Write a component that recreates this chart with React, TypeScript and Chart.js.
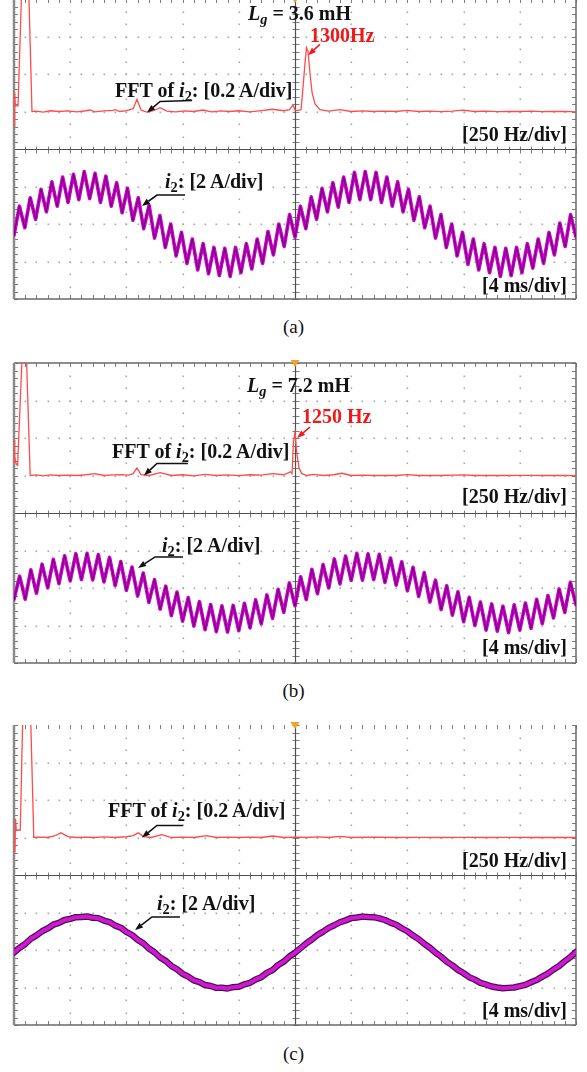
import React, { useEffect, useRef } from 'react';
import { Chart, registerables } from 'chart.js';

Chart.register(...registerables);

// ---------------- data ----------------
// graticule: 10 x 8 divisions
const FREQ_GRID_HZ = [0, 250, 500, 750, 1000, 1250, 1500, 1750, 2000, 2250, 2500]; // 250 Hz/div
const TIME_GRID_MS = [0, 4, 8, 12, 16, 20, 24, 28, 32, 36, 40]; // 4 ms/div
const FFT_GRID_A = [-1.0, -0.8, -0.6, -0.4, -0.2, 0, 0.2, 0.4, 0.6]; // 0.2 A/div
const I2_GRID_A = [-4, -2, 0, 2, 4, 6, 8, 10, 12]; // 2 A/div

// (a) Lg = 3.6 mH
const FFT_A_HZ = [0, 3, 6, 18, 51, 80, 100, 130, 160, 200, 240, 280, 320, 338, 360, 400, 440, 450, 470, 500, 530, 547, 565, 590, 620, 650, 680, 720, 760, 800, 840, 880, 920, 960, 1000, 1050, 1100, 1150, 1200, 1225, 1241, 1250, 1259, 1277, 1285, 1294, 1301, 1308, 1317, 1326, 1339, 1361, 1400, 1450, 1500, 1550, 1600, 1650, 1700, 1748, 1800, 1850, 1900, 1950, 1997, 2050, 2100, 2150, 2200, 2250, 2300, 2350, 2400, 2450, 2500];
const FFT_A_AMP = [-0.08, 0.10, 0.03, 0.03, 1.30, 0.0, 0.002, -0.003, 0.004, 0.0, 0.003, -0.002, 0.004, 0.008, -0.002, 0.003, 0.006, 0.01, 0.0, 0.005, 0.015, 0.065, 0.008, -0.003, 0.004, 0.02, 0.002, -0.002, 0.003, 0.0, 0.008, -0.002, 0.003, 0.0, 0.004, -0.002, 0.005, 0.012, 0.004, 0.01, 0.035, 0.008, 0.005, 0.01, 0.12, 0.25, 0.34, 0.32, 0.2, 0.1, 0.04, 0.01, 0.002, 0.01, 0.0, 0.003, 0.0, 0.002, 0.0, 0.006, 0.0, 0.002, -0.001, 0.002, 0.007, 0.0, 0.002, -0.001, 0.001, 0.0, 0.002, -0.001, 0.0, 0.001, -0.002];
const WAVE_A_STEP_MS = 40 / 104;
const WAVE_A_I2 = [
  -0.6, 0.95, -0.2, 1.4, 0.25, 1.85, 0.65, 2.25, 0.95, 2.5, 1.15, 2.65, 1.3, 2.8, 1.35, 2.7, 1.15, 2.55, 0.95, 2.2, 0.6, 1.9, 0.2, 1.4, -0.25, 1.0, -0.75, 0.45, -1.25, 0.0, -1.7, -0.45, -2.1, -0.8, -2.45, -1.05, -2.65, -1.25, -2.75, -1.3, -2.8, -1.25, -2.6, -1.05, -2.4, -0.8, -2.1, -0.4, -1.65, 0.0, -1.2, 0.5, -0.7,
  0.95, -0.25, 1.45, 0.25, 1.9, 0.65, 2.2, 0.9, 2.5, 1.15, 2.75, 1.3, 2.8, 1.3, 2.75, 1.15, 2.5, 0.95, 2.25, 0.65, 1.85, 0.2, 1.45, -0.2, 0.95, -0.75, 0.5, -1.25, 0.0, -1.7, -0.45, -2.15, -0.8, -2.45, -1.05, -2.6, -1.25, -2.8, -1.3, -2.75, -1.25, -2.6, -1.05, -2.35, -0.8, -2.1, -0.45, -1.65, 0.05, -1.2, 0.5, -0.7,
];

// (b) Lg = 7.2 mH
const FFT_B_HZ = [0, 2, 4, 10, 16, 47, 72, 100, 130, 160, 200, 240, 280, 320, 360, 400, 440, 480, 510, 530, 547, 565, 600, 650, 700, 750, 800, 850, 900, 950, 1000, 1050, 1100, 1150, 1200, 1230, 1237, 1243, 1250, 1258, 1268, 1280, 1303, 1330, 1380, 1420, 1459, 1500, 1550, 1600, 1650, 1700, 1750, 1800, 1850, 1900, 1950, 2000, 2050, 2100, 2150, 2200, 2250, 2300, 2350, 2400, 2450, 2500];
const FFT_B_AMP = [0.07, 0.19, 0.10, 0.06, 0.055, 0.95, 0.0, 0.003, -0.002, 0.003, 0.0, 0.002, 0.0, 0.004, 0.01, 0.0, 0.003, 0.005, 0.002, 0.01, 0.04, 0.005, 0.0, 0.015, 0.0, 0.004, -0.002, 0.006, 0.0, 0.003, -0.001, 0.004, 0.002, 0.01, 0.004, 0.02, 0.01, 0.18, 0.23, 0.12, 0.04, 0.01, 0.0, 0.006, 0.0, 0.004, 0.012, 0.0, 0.002, 0.0, 0.001, 0.0, 0.005, 0.0, 0.001, 0.0, 0.002, 0.003, 0.0, 0.001, 0.0, 0.0, 0.001, 0.001, 0.0, 0.0, 0.001, -0.001];
const WAVE_B_STEP_MS = 0.4;
const WAVE_B_I2 = [
  -0.6, 0.63, -0.6, 0.97, -0.28, 1.27, 0.01, 1.53, 0.23, 1.72, 0.38, 1.83, 0.45, 1.85, 0.43, 1.78, 0.32, 1.63, 0.13, 1.41, -0.13, 1.12, -0.43, 0.8, -0.77, 0.45, -1.13, 0.1, -1.47, -0.22, -1.77, -0.51, -2.03, -0.73, -2.22, -0.88, -2.33, -0.95, -2.35, -0.93, -2.28, -0.82, -2.13, -0.63, -1.91, -0.37, -1.62, -0.07, -1.3, 0.27, -0.95,
  0.6, -0.62, 1.0, -0.3, 1.25, 0.0, 1.55, 0.22, 1.7, 0.4, 1.85, 0.42, 1.82, 0.45, 1.8, 0.3, 1.6, 0.15, 1.4, -0.15, 1.1, -0.45, 0.82, -0.75, 0.42, -1.15, 0.12, -1.45, -0.2, -1.8, -0.5, -2.0, -0.75, -2.25, -0.85, -2.3, -0.97, -2.38, -0.9, -2.25, -0.8, -2.15, -0.6, -1.9, -0.4, -1.6, -0.05, -1.3, 0.3, -0.9,
];

// (c)
const FFT_C_HZ = [0, 4, 7, 10, 28, 55, 88, 110, 150, 180, 209, 240, 280, 320, 360, 400, 450, 500, 530, 553, 575, 610, 658, 700, 750, 800, 858, 900, 950, 1000, 1050, 1100, 1150, 1200, 1260, 1300, 1350, 1400, 1450, 1500, 1600, 1700, 1800, 1900, 2000, 2100, 2200, 2300, 2400, 2500];
const FFT_C_AMP = [0.02, -0.08, 0.10, 0.04, 0.04, 1.52, 0.0, 0.002, 0.0, 0.008, 0.025, 0.005, 0.0, 0.002, 0.0, 0.003, 0.0, 0.004, 0.01, 0.025, 0.005, 0.0, 0.015, 0.0, 0.002, 0.0, 0.01, 0.0, 0.002, 0.0, 0.002, 0.0, 0.008, 0.0, 0.002, 0.0, 0.003, 0.0, 0.006, 0.0, 0.002, 0.0, 0.001, 0.0, 0.001, 0.0, 0.001, 0.0, 0.0, 0.0];
const WAVE_C_STEP_MS = 0.4;
const WAVE_C_I2 = [
  -0.13, 0.12, 0.32, 0.6, 0.78, 1.0, 1.15, 1.35, 1.45, 1.6, 1.66, 1.75, 1.76, 1.79, 1.72, 1.7, 1.57, 1.49, 1.3, 1.19, 0.96, 0.8, 0.55, 0.36, 0.08, -0.12, -0.4, -0.58, -0.85, -1.03, -1.27, -1.42, -1.62, -1.71, -1.87, -1.92, -2.02, -2.01, -2.05, -1.98, -1.96, -1.83, -1.75, -1.57, -1.45, -1.22, -1.07, -0.8, -0.62, -0.35, -0.15,
  0.1, 0.35, 0.56, 0.8, 0.98, 1.18, 1.32, 1.48, 1.58, 1.7, 1.73, 1.78, 1.76, 1.75, 1.69, 1.6, 1.46, 1.35, 1.16, 1.0, 0.77, 0.58, 0.33, 0.12, -0.14, -0.36, -0.62, -0.82, -1.06, -1.24, -1.45, -1.58, -1.75, -1.84, -1.95, -2.0, -2.04, -2.02, -2.0, -1.93, -1.86, -1.72, -1.6, -1.42, -1.26, -1.04, -0.85, -0.6, -0.38, -0.1,
];

const PANEL_CAPTIONS = ['(a)', '(b)', '(c)'];
const LG_VALUES = ['3.6 mH', '7.2 mH', ''];
const PEAK_LABELS = ['1300Hz', '1250 Hz', ''];

// ---------------- layout / style ----------------
const W = 587;
const H = 1072;
const PAD = 10;
const SERIF = "'Liberation Serif', 'Times New Roman', Times, serif";
const FS = 20;
const RED = '#f01818';
const INK = '#111111';

type Arrow = { fft: boolean; x: number; y: number; path: number[][]; color: string };

type Panel = {
  top: number;
  topBorder: boolean;
  fftHz: number[];
  fftAmp: number[];
  wave: number[];
  waveStep: number;
  thickTrace: boolean;
  arrows: Arrow[];
};

const PANELS: Panel[] = [
  {
    top: -1, topBorder: true, fftHz: FFT_A_HZ, fftAmp: FFT_A_AMP, wave: WAVE_A_I2, waveStep: WAVE_A_STEP_MS, thickTrace: false,
    arrows: [
      { fft: true, x: 592, y: -0.005, path: [[45, -12], [13, -11]], color: INK },
      { fft: false, x: 9.11, y: 0.96, path: [[43, -11], [15, -11]], color: INK },
      { fft: true, x: 1308, y: 0.3, path: [[12, -11]], color: RED },
    ],
  },
  {
    top: 363, topBorder: true, fftHz: FFT_B_HZ, fftAmp: FFT_B_AMP, wave: WAVE_B_I2, waveStep: WAVE_B_STEP_MS, thickTrace: false,
    arrows: [
      { fft: true, x: 578, y: 0.0, path: [[44, -12], [13, -12]], color: INK },
      { fft: false, x: 8.83, y: 1.07, path: [[45, -11], [17, -11]], color: INK },
      { fft: true, x: 1259, y: 0.2, path: [[13, -11]], color: RED },
    ],
  },
  {
    top: 725, topBorder: false, fftHz: FFT_C_HZ, fftAmp: FFT_C_AMP, wave: WAVE_C_I2, waveStep: WAVE_C_STEP_MS, thickTrace: true,
    arrows: [
      { fft: true, x: 569, y: 0.0, path: [[41, -12], [15, -12]], color: INK },
      { fft: false, x: 8.61, y: 1.07, path: [[45, -13], [17, -13]], color: INK },
    ],
  },
];

// ---------------- plugins ----------------
function makeGraticule(topBorder: boolean) {
  return {
    id: 'graticule',
    beforeDatasetsDraw(chart: any) {
      const { ctx, chartArea } = chart;
      const { left, right, top, bottom } = chartArea;
      const xs = chart.scales.xt;
      const ys = chart.scales.yt;
      const gx = TIME_GRID_MS.map((v) => xs.getPixelForValue(v));
      const gy = I2_GRID_A.map((v) => ys.getPixelForValue(v)).reverse();
      const divW = gx[1] - gx[0];
      const divH = gy[1] - gy[0];
      const cx = Math.round(gx[5]) + 0.5;
      const cy = Math.round(gy[4]) + 0.5;
      ctx.save();
      // dotted division lines
      ctx.fillStyle = '#a8a8a8';
      gx.forEach((x: number, i: number) => {
        if (i === 0 || i === gx.length - 1 || i === 5) return;
        for (let y = top + divH / 3; y < bottom - 2; y += divH / 3) {
          ctx.fillRect(Math.round(x) - 0.5, Math.round(y) - 0.5, 1.6, 1.6);
        }
      });
      gy.forEach((y: number, j: number) => {
        if (j === 0 || j === gy.length - 1 || j === 4) return;
        for (let x = left + divW / 5; x < right - 2; x += divW / 5) {
          ctx.fillRect(Math.round(x) - 0.5, Math.round(y) - 0.5, 1.6, 1.6);
        }
      });
      // minor ticks on centre lines and borders
      ctx.strokeStyle = '#7c7c7c';
      ctx.lineWidth = 1;
      ctx.beginPath();
      for (let y = top; y <= bottom + 0.1; y += divH / 5) {
        const yy = Math.round(y) + 0.5;
        ctx.moveTo(cx - 3, yy); ctx.lineTo(cx + 4, yy);
        ctx.moveTo(left, yy); ctx.lineTo(left + 4, yy);
        ctx.moveTo(right - 4, yy); ctx.lineTo(right, yy);
      }
      for (let x = left; x <= right + 0.1; x += divW / 5) {
        const xx = Math.round(x) + 0.5;
        ctx.moveTo(xx, cy - 3); ctx.lineTo(xx, cy + 4);
        ctx.moveTo(xx, top); ctx.lineTo(xx, top + 4);
        ctx.moveTo(xx, bottom - 4); ctx.lineTo(xx, bottom);
      }
      ctx.stroke();
      // centre cross
      ctx.strokeStyle = '#505050';
      ctx.lineWidth = 1.2;
      ctx.beginPath();
      ctx.moveTo(cx, top); ctx.lineTo(cx, bottom);
      ctx.moveTo(left, cy); ctx.lineTo(right, cy);
      ctx.stroke();
      // frame
      ctx.strokeStyle = '#6a6a6a';
      ctx.lineWidth = 1.5;
      ctx.beginPath();
      ctx.moveTo(left, bottom); ctx.lineTo(right, bottom);
      ctx.moveTo(right, top); ctx.lineTo(right, bottom);
      if (topBorder) { ctx.moveTo(left, top); ctx.lineTo(right, top); }
      ctx.stroke();
      ctx.strokeStyle = '#8a8a8a';
      ctx.lineWidth = 2.5;
      ctx.beginPath();
      ctx.moveTo(left, top); ctx.lineTo(left, bottom);
      ctx.stroke();
      ctx.restore();
    },
    afterDatasetsDraw(chart: any) {
      const { ctx, chartArea } = chart;
      const cx = chart.scales.xt.getPixelForValue(TIME_GRID_MS[5]);
      const t = chartArea.top;
      ctx.save();
      ctx.fillStyle = '#f2a02a';
      ctx.beginPath();
      ctx.moveTo(cx - 4.5, t - 3);
      ctx.lineTo(cx + 4.5, t - 3);
      ctx.lineTo(cx, t + 4);
      ctx.closePath();
      ctx.fill();
      ctx.restore();
    },
  };
}

function makeNotes(arrows: Arrow[]) {
  return {
    id: 'scopeNotes',
    afterDatasetsDraw(chart: any) {
      const { ctx } = chart;
      ctx.save();
      arrows.forEach((a) => {
        const xs = chart.scales[a.fft ? 'xf' : 'xt'];
        const ys = chart.scales[a.fft ? 'yf' : 'yt'];
        const tx = xs.getPixelForValue(a.x);
        const ty = ys.getPixelForValue(a.y);
        const pts = a.path.map(([dx, dy]) => [tx + dx, ty + dy]);
        const [px, py] = pts[pts.length - 1];
        const ang = Math.atan2(ty - py, tx - px);
        const len = 8;
        const wid = 6;
        const bx = tx - len * Math.cos(ang);
        const by = ty - len * Math.sin(ang);
        ctx.strokeStyle = a.color;
        ctx.fillStyle = a.color;
        ctx.lineWidth = 1.6;
        ctx.beginPath();
        ctx.moveTo(pts[0][0], pts[0][1]);
        for (let i = 1; i < pts.length; i++) ctx.lineTo(pts[i][0], pts[i][1]);
        ctx.lineTo(bx, by);
        ctx.stroke();
        ctx.beginPath();
        ctx.moveTo(tx, ty);
        ctx.lineTo(bx + (wid / 2) * Math.sin(ang), by - (wid / 2) * Math.cos(ang));
        ctx.lineTo(bx - (wid / 2) * Math.sin(ang), by + (wid / 2) * Math.cos(ang));
        ctx.closePath();
        ctx.fill();
      });
      ctx.restore();
    },
  };
}

// ---------------- components ----------------
function ScopePanel({ p }: { p: Panel }) {
  const ref = useRef<HTMLCanvasElement | null>(null);
  useEffect(() => {
    if (!ref.current) return;
    const fftPts = p.fftHz.map((hz, i) => ({ x: hz, y: p.fftAmp[i] }));
    const wavePts = p.wave.map((v, k) => ({ x: k * p.waveStep, y: v }));
    const core = p.thickTrace
      ? { color: '#d018d0', width: 4 }
      : { color: '#66066a', width: 1 };
    const outer = p.thickTrace
      ? { color: '#4a1252', width: 6.5 }
      : { color: '#cf00cf', width: 3.6 };
    const chart = new Chart(ref.current, {
      type: 'line',
      data: {
        datasets: [
          {
            data: wavePts, xAxisID: 'xt', yAxisID: 'yt', borderColor: core.color, borderWidth: core.width,
            pointRadius: 0, tension: 0, borderJoinStyle: 'round', borderCapStyle: 'round',
          },
          {
            data: wavePts, xAxisID: 'xt', yAxisID: 'yt', borderColor: outer.color, borderWidth: outer.width,
            pointRadius: 0, tension: 0, borderJoinStyle: 'round', borderCapStyle: 'round',
          },
          {
            data: fftPts, xAxisID: 'xf', yAxisID: 'yf', borderColor: '#ff4b4b', borderWidth: 1.3,
            pointRadius: 0, tension: 0, clip: 0,
          },
        ] as any,
      },
      options: {
        animation: false,
        responsive: false,
        devicePixelRatio: 1,
        events: [],
        layout: { padding: { left: 14, right: W - 576, top: PAD, bottom: PAD } },
        plugins: { legend: { display: false }, tooltip: { enabled: false } },
        scales: {
          xf: { type: 'linear', display: false, min: FREQ_GRID_HZ[0], max: FREQ_GRID_HZ[FREQ_GRID_HZ.length - 1] },
          xt: { type: 'linear', display: false, min: TIME_GRID_MS[0], max: TIME_GRID_MS[TIME_GRID_MS.length - 1] },
          yf: { type: 'linear', display: false, min: FFT_GRID_A[0], max: FFT_GRID_A[FFT_GRID_A.length - 1] },
          yt: { type: 'linear', display: false, min: I2_GRID_A[0], max: I2_GRID_A[I2_GRID_A.length - 1] },
        },
      } as any,
      plugins: [makeGraticule(p.topBorder), makeNotes(p.arrows)],
    });
    return () => chart.destroy();
  }, [p]);
  return (
    <canvas
      ref={ref}
      width={W}
      height={300 + 2 * PAD}
      style={{ position: 'absolute', left: 0, top: p.top - PAD, width: W, height: 300 + 2 * PAD }}
    />
  );
}

function Label(props: { left?: number; right?: number; base: number; color?: string; bold?: boolean; size?: number; center?: boolean; children: React.ReactNode }) {
  const size = props.size ?? FS;
  const style: React.CSSProperties = {
    position: 'absolute',
    top: props.base - 0.8375 * size,
    fontFamily: SERIF,
    fontSize: size,
    lineHeight: `${size}px`,
    fontWeight: props.bold === false ? 400 : 700,
    color: props.color ?? INK,
    whiteSpace: 'nowrap',
  };
  if (props.center) { style.left = 0; style.width = W; style.textAlign = 'center'; }
  if (props.left != null) style.left = props.left;
  if (props.right != null) style.right = props.right;
  return <div style={style}>{props.children}</div>;
}

const Sub = ({ children }: { children: React.ReactNode }) => (
  <span style={{ position: 'relative', top: '0.28em', fontSize: '0.72em' }}>{children}</span>
);

const I2 = () => (<><i>i</i><Sub>2</Sub></>);

type TextPos = { lg?: [number, number]; peak?: [number, number]; fft: [number, number]; hz: number; i2: [number, number]; ms: number; cap: number };
const TEXT_POS: TextPos[] = [
  { lg: [248, 20], peak: [310, 42], fft: [115, 97], hz: 141, i2: [165, 188], ms: 292, cap: 333 },
  { lg: [247, 392], peak: [302, 423], fft: [112, 458], hz: 503, i2: [162, 552], ms: 654, cap: 697 },
  { fft: [108, 817], hz: 867, i2: [157, 910], ms: 1017, cap: 1060 },
];

export default function App() {
  return (
    <div style={{ position: 'absolute', left: 0, top: 0, width: W, height: H, background: '#ffffff', overflow: 'hidden' }}>
      {PANELS.map((p, i) => <ScopePanel key={i} p={p} />)}
      {TEXT_POS.map((t, i) => (
        <React.Fragment key={i}>
          {t.lg && LG_VALUES[i] && (
            <Label left={t.lg[0]} base={t.lg[1]}><i>L</i><Sub><i>g</i></Sub> = {LG_VALUES[i]}</Label>
          )}
          {t.peak && PEAK_LABELS[i] && (
            <Label left={t.peak[0]} base={t.peak[1]} color={RED}>{PEAK_LABELS[i]}</Label>
          )}
          <Label left={t.fft[0]} base={t.fft[1]}>FFT of <I2 />: [0.2 A/div]</Label>
          <Label right={20} base={t.hz}>[250 Hz/div]</Label>
          <Label left={t.i2[0]} base={t.i2[1]}><I2 />: [2 A/div]</Label>
          <Label right={20} base={t.ms}>[4 ms/div]</Label>
          <Label center bold={false} size={19} base={t.cap}>{PANEL_CAPTIONS[i]}</Label>
        </React.Fragment>
      ))}
    </div>
  );
}
